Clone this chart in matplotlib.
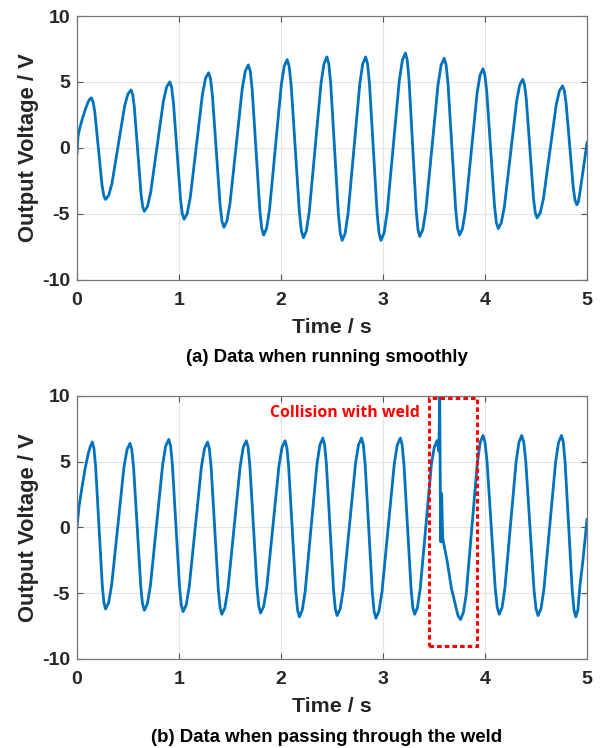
import matplotlib
matplotlib.use("Agg")
import matplotlib.pyplot as plt
from matplotlib.patches import Rectangle

plt.rcParams['font.family'] = ['Liberation Sans', 'DejaVu Sans']
plt.rcParams['axes.unicode_minus'] = False

# (a) running smoothly: points (time s, voltage V), one half cycle per row
top_t = [0.00, 0.01, 0.03, 0.06, 0.09, 0.11, 0.125, 0.14,
         0.1575, 0.175, 0.21, 0.245, 0.2625, 0.28,
         0.31125, 0.3425, 0.405, 0.4675, 0.49875, 0.53,
         0.54625, 0.5625, 0.595, 0.6275, 0.64375, 0.66,
         0.69125, 0.7225, 0.785, 0.8475, 0.87875, 0.91,
         0.9275, 0.945, 0.98, 1.015, 1.0325, 1.05,
         1.08, 1.11, 1.17, 1.23, 1.26, 1.29,
         1.30875, 1.3275, 1.365, 1.4025, 1.42125, 1.44,
         1.47, 1.50, 1.56, 1.62, 1.65, 1.68,
         1.69875, 1.7175, 1.755, 1.7925, 1.81125, 1.83,
         1.85875, 1.8875, 1.945, 2.0025, 2.03125, 2.06,
         2.08, 2.10, 2.14, 2.18, 2.20, 2.22,
         2.24875, 2.2775, 2.335, 2.3925, 2.42125, 2.45,
         2.46875, 2.4875, 2.525, 2.5625, 2.58125, 2.60,
         2.62875, 2.6575, 2.715, 2.7725, 2.80125, 2.83,
         2.84875, 2.8675, 2.905, 2.9425, 2.96125, 2.98,
         3.01, 3.04, 3.10, 3.16, 3.19, 3.22,
         3.2375, 3.255, 3.29, 3.325, 3.3425, 3.36,
         3.39, 3.42, 3.48, 3.54, 3.57, 3.60,
         3.61875, 3.6375, 3.675, 3.7125, 3.73125, 3.75,
         3.77875, 3.8075, 3.865, 3.9225, 3.95125, 3.98,
         3.99875, 4.0175, 4.055, 4.0925, 4.11125, 4.13,
         4.16, 4.19, 4.25, 4.31, 4.34, 4.37,
         4.3875, 4.405, 4.44, 4.475, 4.4925, 4.51,
         4.54125, 4.5725, 4.635, 4.6975, 4.72875, 4.76,
         4.7775, 4.795, 4.83, 4.865, 4.8825, 4.90,
         4.915, 4.93, 4.96, 5.00]
top_v = [-0.4, 0.9, 1.6, 2.4, 3.1, 3.5, 3.7, 3.8,
         3.51, 2.7, -0.05, -2.8, -3.61, -3.9,
         -3.58, -2.7, 0.25, 3.2, 4.08, 4.4,
         4.05, 3.05, -0.2, -3.45, -4.45, -4.8,
         -4.43, -3.35, 0.1, 3.57, 4.63, 5.0,
         4.6, 3.48, -0.2, -3.88, -5.0, -5.4,
         -4.98, -3.78, 0.15, 4.08, 5.28, 5.7,
         5.26, 3.99, -0.15, -4.29, -5.56, -6.0,
         -5.53, -4.2, 0.15, 4.5, 5.83, 6.3,
         5.81, 4.42, -0.15, -4.72, -6.11, -6.6,
         -6.09, -4.66, 0.05, 4.76, 6.19, 6.7,
         6.19, 4.73, -0.05, -4.83, -6.29, -6.8,
         -6.28, -4.8, 0.05, 4.9, 6.38, 6.9,
         6.37, 4.87, -0.05, -4.97, -6.47, -7.0,
         -6.47, -4.97, -0.05, 4.87, 6.37, 6.9,
         6.37, 4.87, -0.05, -4.97, -6.47, -7.0,
         -6.46, -4.93, 0.1, 5.13, 6.66, 7.2,
         6.67, 5.17, 0.25, -4.67, -6.17, -6.7,
         -6.19, -4.73, 0.05, 4.83, 6.29, 6.8,
         6.29, 4.84, 0.1, -4.64, -6.09, -6.6,
         -6.12, -4.76, -0.3, 4.16, 5.52, 6.0,
         5.54, 4.23, -0.05, -4.33, -5.64, -6.1,
         -5.67, -4.45, -0.45, 3.55, 4.77, 5.2,
         4.8, 3.67, -0.05, -3.77, -4.9, -5.3,
         -4.92, -3.84, -0.3, 3.24, 4.32, 4.7,
         4.36, 3.39, 0.2, -2.99, -3.96, -4.3,
         -4.1, -3.4, -1.8, 0.4]

# (b) passing through the weld
bot_t = [0.00, 0.02, 0.05, 0.08, 0.11, 0.13, 0.15,
         0.16625, 0.1825, 0.215, 0.2475, 0.26375, 0.28,
         0.31, 0.34, 0.40, 0.46, 0.49, 0.52,
         0.5375, 0.555, 0.59, 0.625, 0.6425, 0.66,
         0.69, 0.72, 0.78, 0.84, 0.87, 0.90,
         0.9175, 0.935, 0.97, 1.005, 1.0225, 1.04,
         1.07, 1.10, 1.16, 1.22, 1.25, 1.28,
         1.2975, 1.315, 1.35, 1.385, 1.4025, 1.42,
         1.45, 1.48, 1.54, 1.60, 1.63, 1.66,
         1.6775, 1.695, 1.73, 1.765, 1.7825, 1.80,
         1.83, 1.86, 1.92, 1.98, 2.01, 2.04,
         2.0575, 2.075, 2.11, 2.145, 2.1625, 2.18,
         2.20875, 2.2375, 2.295, 2.3525, 2.38125, 2.41,
         2.4275, 2.445, 2.48, 2.515, 2.5325, 2.55,
         2.58, 2.61, 2.67, 2.73, 2.76, 2.79,
         2.8075, 2.825, 2.86, 2.895, 2.9125, 2.93,
         2.96, 2.99, 3.05, 3.11, 3.14, 3.17,
         3.1875, 3.205, 3.24, 3.275, 3.2925, 3.31,
         3.3375, 3.365, 3.42, 3.475, 3.5025, 3.53,
         3.548, 3.556, 3.562, 3.567, 3.575, 3.585, 3.60, 3.63, 3.67, 3.71, 3.735, 3.76,
         3.7875, 3.815, 3.87, 3.925, 3.9525, 3.98,
         4.00, 4.02, 4.06, 4.10, 4.12, 4.14,
         4.1675, 4.195, 4.25, 4.305, 4.3325, 4.36,
         4.38, 4.40, 4.44, 4.48, 4.50, 4.52,
         4.54875, 4.5775, 4.635, 4.6925, 4.72125, 4.75,
         4.7675, 4.785, 4.82, 4.855, 4.8725, 4.89,
         4.91, 4.93, 4.96, 5.00]
bot_v = [0.0, 1.6, 3.1, 4.5, 5.6, 6.15, 6.5,
         6.02, 4.65, 0.15, -4.35, -5.72, -6.2,
         -5.72, -4.36, 0.1, 4.56, 5.92, 6.4,
         5.92, 4.55, 0.05, -4.45, -5.82, -6.3,
         -5.81, -4.4, 0.2, 4.8, 6.21, 6.7,
         6.2, 4.79, 0.15, -4.49, -5.9, -6.4,
         -5.91, -4.52, 0.05, 4.62, 6.01, 6.5,
         6.0, 4.59, -0.05, -4.69, -6.1, -6.6,
         -6.1, -4.67, 0.0, 4.67, 6.1, 6.6,
         6.1, 4.69, 0.05, -4.59, -6.0, -6.5,
         -6.0, -4.59, 0.05, 4.69, 6.1, 6.6,
         6.09, 4.64, -0.1, -4.84, -6.29, -6.8,
         -6.28, -4.81, 0.0, 4.81, 6.28, 6.8,
         6.29, 4.83, 0.05, -4.73, -6.19, -6.7,
         -6.19, -4.73, 0.05, 4.83, 6.29, 6.8,
         6.28, 4.8, -0.05, -4.9, -6.38, -6.9,
         -6.38, -4.9, -0.05, 4.8, 6.28, 6.8,
         6.29, 4.84, 0.1, -4.64, -6.09, -6.6,
         -6.1, -4.64, 0.1, 4.84, 6.1, 6.6,
         5.8, 10.0, 2.5, -1.1, 2.6, -0.8, -1.4, -2.6, -4.6, -5.9, -6.7, -7.0,
         -6.47, -5.13, -0.1, 4.93, 6.47, 7.0,
         6.48, 5.01, 0.2, -4.61, -6.08, -6.6,
         -6.08, -4.61, 0.2, 5.01, 6.48, 7.0,
         6.48, 5.0, 0.15, -4.7, -6.18, -6.7,
         -6.18, -4.7, 0.15, 5.0, 6.48, 7.0,
         6.48, 4.98, 0.1, -4.78, -6.28, -6.8,
         -6.3, -4.5, -2.5, 0.6]

x_ticks = [0, 1, 2, 3, 4, 5]
y_ticks = [-10, -5, 0, 5, 10]

# weld collision window (time range, voltage range)
weld_t = [3.45, 3.92]
weld_v = [-9.0, 9.85]

line_col = '#0072BD'
txt_col = '#262626'

fig = plt.figure(figsize=(6.02, 7.48), dpi=100)
ax1 = fig.add_axes([0.1279, 0.6257, 0.8472, 0.3529])
ax2 = fig.add_axes([0.1279, 0.1190, 0.8472, 0.3516])


def style(ax):
    ax.set_xlim(0, 5)
    ax.set_ylim(-10, 10)
    ax.set_xticks(x_ticks)
    ax.set_yticks(y_ticks)
    ax.grid(True, color='#e3e3e3', lw=0.8)
    ax.set_axisbelow(True)
    ax.tick_params(direction='in', length=4, width=0.8, top=True, right=True,
                   colors='#555555', labelcolor=txt_col, labelsize=14)
    ax.tick_params(axis='x', pad=9)
    ax.tick_params(axis='y', pad=5)
    for lab in ax.get_xticklabels() + ax.get_yticklabels():
        lab.set_fontweight('bold')
    for sp in ax.spines.values():
        sp.set_color('#777777')
        sp.set_linewidth(0.9)
    ax.set_xlabel('Time / s', fontsize=15.4, fontweight='bold', color=txt_col, labelpad=6)
    ax.set_ylabel('Output Voltage / V', fontsize=15.8, fontweight='bold', color=txt_col, labelpad=2)


ax1.plot(top_t, top_v, color=line_col, lw=2.0, solid_joinstyle='round')
style(ax1)

ax2.plot(bot_t, bot_v, color=line_col, lw=2.0, solid_joinstyle='round')
style(ax2)
ax2.add_patch(Rectangle((weld_t[0], weld_v[0]), weld_t[1] - weld_t[0], weld_v[1] - weld_v[0],
                        fill=False, ec='#ff0000', lw=2.2, ls=(0, (1.5, 1.0)), zorder=5))
ax2.text(3.36, 8.7, 'Collision with weld', color='#ff0000', fontsize=11.4,
         fontweight='bold', family=['Open Sans', 'DejaVu Sans'], ha='right', va='center')

fig.text(327 / 602, 1 - 357 / 748, '(a) Data when running smoothly', ha='center', va='center',
         fontsize=13.4, fontweight='bold', color='black')
fig.text(327 / 602, 1 - 737 / 748, '(b) Data when passing through the weld', ha='center', va='center',
         fontsize=13.4, fontweight='bold', color='black')

fig.savefig('out.png', dpi=100)
